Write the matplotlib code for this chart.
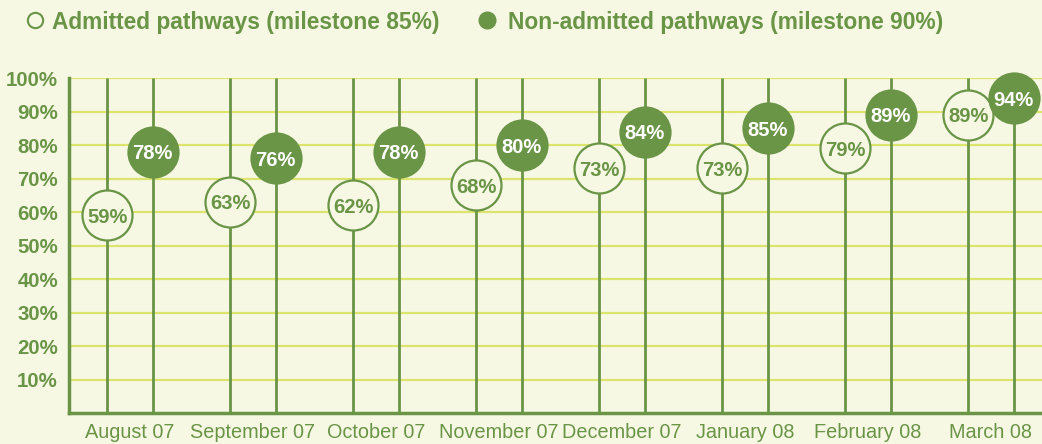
import matplotlib
matplotlib.use("Agg")
import matplotlib.pyplot as plt
from matplotlib.lines import Line2D
import numpy as np

months = ["August 07", "September 07", "October 07", "November 07",
          "December 07", "January 08", "February 08", "March 08"]
admitted = [59, 63, 62, 68, 73, 73, 79, 89]
non_admitted = [78, 76, 78, 80, 84, 85, 89, 94]
yticks = [10, 20, 30, 40, 50, 60, 70, 80, 90, 100]
legend_labels = ["Admitted pathways (milestone 85%)", "Non-admitted pathways (milestone 90%)"]

GREEN = "#6a9446"
BG = "#f6f8e4"
GRID = "#dbe46c"

plt.rcParams['font.family'] = ['Liberation Sans', 'DejaVu Sans']

W, H = 1042, 444
fig = plt.figure(figsize=(W/100, H/100), dpi=100, facecolor=BG)
ax = fig.add_axes([69/W, 1 - 413/H, 1 - 69/W, (413 - 78)/H])
ax.set_facecolor(BG)

x = np.arange(len(months))
off = 0.185
xa = x - off
xn = x + off

ax.set_xlim(-0.496, 7.415)
ax.set_ylim(0, 100)

for y in yticks:
    ax.axhline(y, color=GRID, lw=1.6, zorder=1)

ax.vlines(xa, 0, 100, color=GREEN, lw=2, zorder=2)
ax.vlines(xn, 0, 100, color=GREEN, lw=2, zorder=2)

s = 36**2
ax.scatter(xa, admitted, s=s, facecolor=BG, edgecolor=GREEN, linewidth=1.6, zorder=3, clip_on=False)
ax.scatter(xn, non_admitted, s=s, facecolor=GREEN, edgecolor=GREEN, linewidth=1.6, zorder=3, clip_on=False)

FS = 14.5
for xi, v in zip(xa, admitted):
    ax.text(xi, v, f"{v}%", ha="center", va="center_baseline", color=GREEN, fontsize=FS,
            fontweight="bold", zorder=4)
for xi, v in zip(xn, non_admitted):
    ax.text(xi, v, f"{v}%", ha="center", va="center_baseline", color="white", fontsize=FS,
            fontweight="bold", zorder=4, clip_on=False)

ax.set_yticks(yticks)
ax.set_yticklabels([f"{t}%" for t in yticks], color=GREEN, fontsize=14.7, fontweight="bold")
ax.set_xticks(x)
ax.set_xticklabels(months, color=GREEN, fontsize=14.3)
ax.tick_params(axis="both", length=0)
ax.tick_params(axis="y", pad=8)
ax.tick_params(axis="x", pad=7)

for side in ["top", "right"]:
    ax.spines[side].set_visible(False)
for side in ["left", "bottom"]:
    ax.spines[side].set_color(GREEN)
    ax.spines[side].set_linewidth(2.5)

# legend drawn manually in figure pixel coordinates
ly = 1 - 20/H
fig.add_artist(Line2D([35/W], [ly], marker="o", ls="none", markersize=11,
                      markerfacecolor=BG, markeredgecolor=GREEN, markeredgewidth=1.5,
                      transform=fig.transFigure))
fig.text(52/W, ly, legend_labels[0], ha="left", va="center_baseline", color=GREEN,
         fontsize=16.4, fontweight="bold")
fig.add_artist(Line2D([487/W], [ly], marker="o", ls="none", markersize=12,
                      markerfacecolor=GREEN, markeredgecolor=GREEN,
                      transform=fig.transFigure))
fig.text(508/W, ly, legend_labels[1], ha="left", va="center_baseline", color=GREEN,
         fontsize=16.4, fontweight="bold")

fig.savefig("out.png", dpi=100, facecolor=BG)
